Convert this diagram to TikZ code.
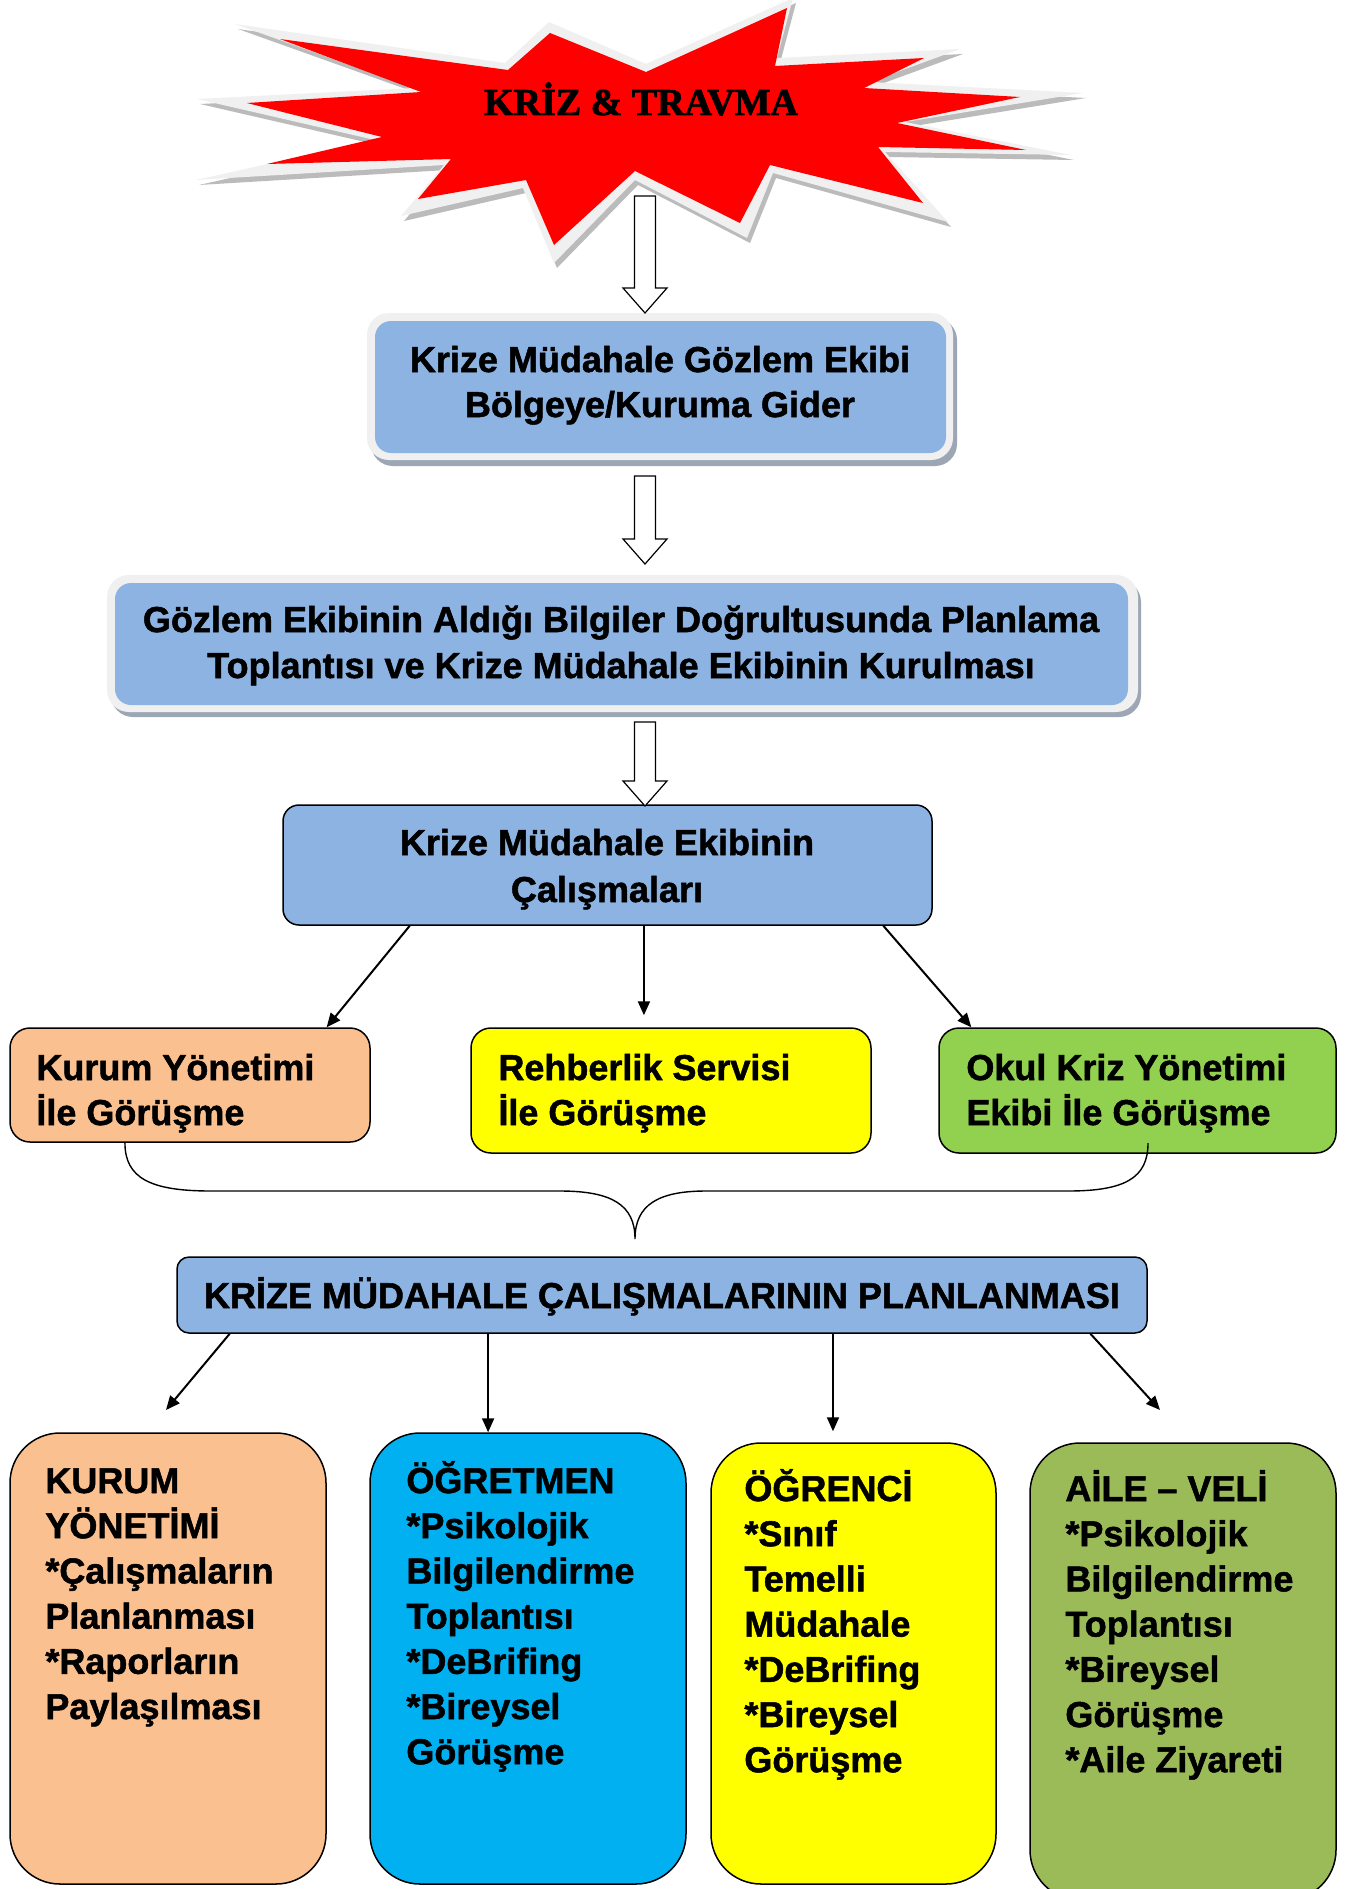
\documentclass[tikz,border=0pt]{standalone}
\usepackage{fontspec}
\setmainfont{Liberation Sans}
\newfontfamily\hv{Liberation Sans}[UprightFont={* Bold}, FakeBold=1.4]
\newfontfamily\starfont{Liberation Serif}[UprightFont={* Bold}, FakeBold=2]
\usetikzlibrary{calc,fit,arrows.meta}
\definecolor{kblue}{HTML}{8DB3E2}
\definecolor{korange}{HTML}{FAC090}
\definecolor{kyellow}{HTML}{FFFF00}
\definecolor{kgreen}{HTML}{92D050}
\definecolor{kcyan}{HTML}{00B0F0}
\definecolor{kolive}{HTML}{9BBB59}
\definecolor{kred}{HTML}{FF0000}
\definecolor{halo}{HTML}{F0F0F0}
\definecolor{haloshadow}{HTML}{BBBBBB}
\definecolor{boxshadow}{HTML}{9CA6B5}
\newcommand\cenlines[2]{\vtop{\baselineskip=#1\lineskiplimit=-50pt\lineskip=0pt\halign{\hfil##\hfil\cr#2\crcr}}}
\newcommand\leftlines[2]{\vtop{\baselineskip=#1\lineskiplimit=-50pt\lineskip=0pt\halign{##\hfil\cr#2\crcr}}}
\newcommand\blockarrow[2]{%
  \draw[blk] let \p1=(#1), \p2=(#2) in
  (\x1-5.25pt,\y1) -- (\x1+5.25pt,\y1) -- (\x1+5.25pt,\y2+12.5pt) -- (\x1+11pt,\y2+12.5pt)
  -- (\x1,\y2) -- (\x1-11pt,\y2+12.5pt) -- (\x1-5.25pt,\y2+12.5pt) -- cycle;}
\tikzset{
  box/.style={draw=black, line width=0.75pt, inner sep=0pt},
  plain/.style={inner sep=0pt},
  txt/.style={inner sep=0pt, font=\hv\fontsize{18}{22}\selectfont},
  conn/.style={line width=1pt, -{Triangle[length=7pt,width=6pt]}},
  blk/.style={draw=black, line width=0.6pt, fill=white, line join=miter},
}
\begin{document}
\begin{tikzpicture}[x=0.5pt, y=-0.5pt]
\path[use as bounding box] (0,0) rectangle (1350,1889);
\clip (0,0) rectangle (1350,1889);
\fill[white] (0,0) rectangle (1350,1889);

% ---------- star ----------
\fill[haloshadow, xshift=1.5pt, yshift=-2.5pt]
 (235,24) -- (505,63) -- (549,22) -- (646,64) -- (793,-2) -- (777,58) -- (960,49) -- (870,82)
 -- (1083,93) -- (905,122) -- (1071,155) -- (885,152) -- (948,222) -- (773,173) -- (747,238)
 -- (635,180) -- (554,263) -- (523,188) -- (401,216) -- (444,165) -- (196,180) -- (375,140)
 -- (197,99) -- (414,88) -- cycle;
\fill[halo]
 (235,24) -- (505,63) -- (549,22) -- (646,64) -- (793,-2) -- (777,58) -- (960,49) -- (870,82)
 -- (1083,93) -- (905,122) -- (1071,155) -- (885,152) -- (948,222) -- (773,173) -- (747,238)
 -- (635,180) -- (554,263) -- (523,188) -- (401,216) -- (444,165) -- (196,180) -- (375,140)
 -- (197,99) -- (414,88) -- cycle;
\fill[kred]
 (280,39) -- (508,70) -- (550,33) -- (646,72) -- (787,8) -- (775,66) -- (924,58) -- (864,88)
 -- (1020,97) -- (897,123) -- (1026,150) -- (878,147) -- (923,203) -- (770,165) -- (740,223)
 -- (635,171) -- (554,245) -- (526,180) -- (418,199) -- (451,159) -- (267,164) -- (382,137)
 -- (247,103) -- (421,92) -- cycle;
\node (star) [plain, anchor=base, font=\starfont\fontsize{19}{22}\selectfont] at (641,115) {KRİZ \& TRAVMA};

% ---------- box 1 ----------
\fill[boxshadow, rounded corners=11pt] (371,318) rectangle (957,466);
\node (b1o) [plain, fill=halo, rounded corners=11pt, fit={(367,313)(953,460)}] {};
\node (b1) [plain, fill=kblue, rounded corners=8pt, fit={(375,321)(946,453)}] {};
\node (t1) [txt, anchor=base] at (660,372) {\cenlines{22.5pt}{Krize Müdahale Gözlem Ekibi\cr Bölgeye/Kuruma Gider}};

% ---------- box 2 ----------
\fill[boxshadow, rounded corners=11pt] (111,580) rectangle (1141,717);
\node (b2o) [plain, fill=halo, rounded corners=11pt, fit={(107,575)(1138,712)}] {};
\node (b2) [plain, fill=kblue, rounded corners=8pt, fit={(115,583)(1128,705)}] {};
\node (t2) [txt, anchor=base] at (621,632) {\cenlines{23pt}{Gözlem Ekibinin Aldığı Bilgiler Doğrultusunda Planlama\cr Toplantısı ve Krize Müdahale Ekibinin Kurulması}};

% ---------- block arrows ----------
\coordinate (a1s) at (645,196); \coordinate (a1t) at (645,313);
\coordinate (a2s) at (645,476); \coordinate (a2t) at (645,564);
\coordinate (a3s) at (645,722); \coordinate (a3t) at (645,806);
\blockarrow{a1s}{a1t}
\blockarrow{a2s}{a2t}

% ---------- box 3 ----------
\node (b3) [box, fill=kblue, rounded corners=8pt, fit={(283,805)(932,925)}] {};
\blockarrow{a3s}{a3t}
\node (t3) [txt, anchor=base] at (607,855) {\cenlines{23.5pt}{Krize Müdahale Ekibinin\cr Çalışmaları}};

% ---------- row 2 ----------
\node (k1) [box, fill=korange, rounded corners=10pt, fit={(10,1028)(370,1142)}] {};
\node (r1) [box, fill=kyellow, rounded corners=10pt, fit={(471,1028)(871,1153)}] {};
\node (g1) [box, fill=kgreen, rounded corners=10pt, fit={(939,1028)(1336,1153)}] {};
\node (tk1) [txt, anchor=base west] at (36,1080) {\leftlines{22.5pt}{Kurum Yönetimi\cr İle Görüşme}};
\node (tr1) [txt, anchor=base west] at (498,1080) {\leftlines{22.5pt}{Rehberlik Servisi\cr İle Görüşme}};
\node (tg1) [txt, anchor=base west] at (966,1080) {\leftlines{22.5pt}{Okul Kriz Yönetimi\cr Ekibi İle Görüşme}};

\coordinate (m1) at ($(b3.south west)!0.556!(b3.south east)$);
\draw[conn] ($(b3.south west)!0.196!(b3.south east)$) -- ($(k1.north west)!0.878!(k1.north east)$);
\draw[conn] (m1) -- ($(m1 |- r1.north)+(0,-12)$);
\draw[conn] ($(b3.south west)!0.924!(b3.south east)$) -- ($(g1.north west)!0.083!(g1.north east)$);

% ---------- brace ----------
\coordinate (btip) at (635,1239);
\coordinate (bR) at (1148,1143);
\draw[line width=0.7pt] ($(k1.south west)!0.32!(k1.south east)$) .. controls (125,1178) and (150,1191) .. (211,1191)
  -- (560,1191) .. controls (612,1191) and (635,1205) .. (btip)
  .. controls (635,1205) and (658,1191) .. (706,1191)
  -- (1068,1191) .. controls (1125,1191) and (1148,1178) .. (bR);

% ---------- heading ----------
\node (h) [box, fill=kblue, rounded corners=6pt, fit={(177,1257)(1147,1333)}] {};
\node (th) [txt, anchor=base] at (662,1308) {KRİZE MÜDAHALE ÇALIŞMALARININ PLANLANMASI};

% ---------- bottom boxes ----------
\node (o1) [box, fill=korange, rounded corners=25pt, fit={(10,1433)(326,1884)}] {};
\node (o2) [box, fill=kcyan, rounded corners=25pt, fit={(370,1433)(686,1884)}] {};
\node (o3) [box, fill=kyellow, rounded corners=25pt, fit={(711,1443)(996,1884)}] {};
\node (o4) [box, fill=kolive, rounded corners=25pt, fit={(1030,1443)(1336,1900)}] {};

\node (to1) [txt, anchor=base west] at (45,1493) {\leftlines{22.6pt}{KURUM\cr YÖNETİMİ\cr *Çalışmaların\cr Planlanması\cr *Raporların\cr Paylaşılması}};
\node (to2) [txt, anchor=base west] at (406,1493) {\leftlines{22.6pt}{ÖĞRETMEN\cr *Psikolojik\cr Bilgilendirme\cr Toplantısı\cr *DeBrifing\cr *Bireysel\cr Görüşme}};
\node (to3) [txt, anchor=base west] at (744,1501) {\leftlines{22.6pt}{ÖĞRENCİ\cr *Sınıf\cr Temelli\cr Müdahale\cr *DeBrifing\cr *Bireysel\cr Görüşme}};
\node (to4) [txt, anchor=base west] at (1065,1501) {\leftlines{22.6pt}{AİLE – VELİ\cr *Psikolojik\cr Bilgilendirme\cr Toplantısı\cr *Bireysel\cr Görüşme\cr *Aile Ziyareti}};

\coordinate (e1) at (166,1410);
\coordinate (e4) at (1160,1410);
\coordinate (hs2) at ($(h.south west)!0.321!(h.south east)$);
\coordinate (hs3) at ($(h.south west)!0.676!(h.south east)$);
\draw[conn] ($(h.south west)!0.055!(h.south east)$) -- (e1);
\draw[conn] (hs2) -- (hs2 |- o2.north);
\draw[conn] (hs3) -- ($(hs3 |- o3.north)+(0,-11)$);
\draw[conn] ($(h.south west)!0.941!(h.south east)$) -- (e4);
\end{tikzpicture}
\end{document}
